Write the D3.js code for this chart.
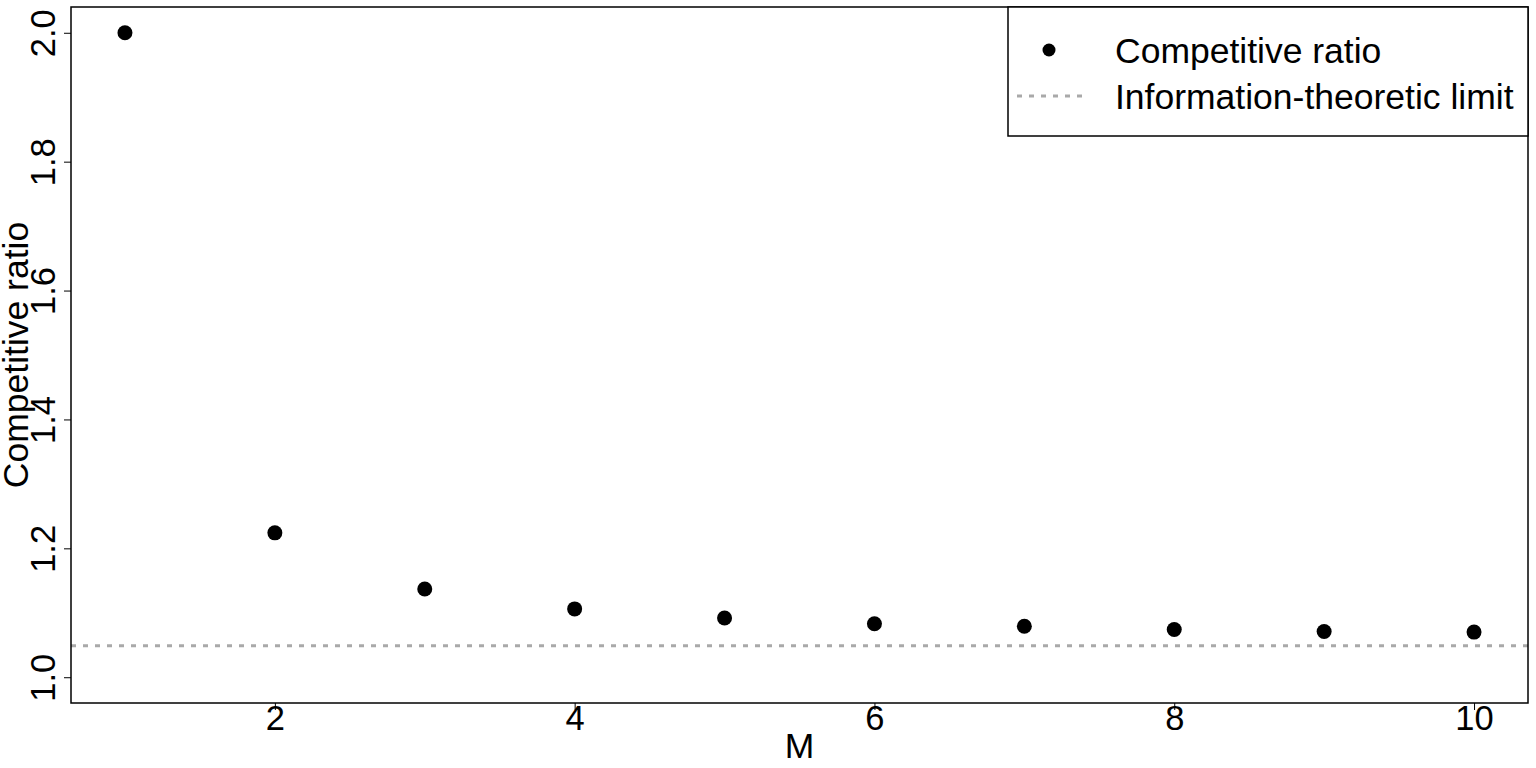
<!DOCTYPE html>
<html>
<head>
<meta charset="utf-8">
<script src="https://cdn.jsdelivr.net/npm/d3@7"></script>
<style>
    body { margin: 0; background: #fff; }
    svg { display: block; font-family: "Liberation Sans", Arial, sans-serif; }
</style>
</head>
<body>
<svg id="chart"></svg>
<script>
// Data
const mValues = [1, 2, 3, 4, 5, 6, 7, 8, 9, 10];
const ratioValues = [2.0, 1.224, 1.137, 1.106, 1.092, 1.083, 1.079, 1.074, 1.071, 1.070];
const limitValue = 1.049;
const xTicks = [2, 4, 6, 8, 10];
const yTicks = [1.0, 1.2, 1.4, 1.6, 1.8, 2.0];
const legendLabels = ["Competitive ratio", "Information-theoretic limit"];

const WIDTH = 1536, HEIGHT = 768;
const plot = {left: 71, right: 1528, top: 7, bottom: 703};
const LIMIT_COLOR = "#a9a9a9";
const LABEL_SIZE = 35.5;

const svg = d3.select("#chart").attr("width", WIDTH).attr("height", HEIGHT);

// R style axis ranges: data range padded by 4% on each side
const xScale = d3.scaleLinear().domain([0.64, 10.36]).range([plot.left, plot.right]);
const yScale = d3.scaleLinear().domain([0.96, 2.04]).range([plot.bottom, plot.top]);

svg.append("defs").append("clipPath").attr("id", "plot-clip")
    .append("rect")
    .attr("x", plot.left).attr("y", plot.top)
    .attr("width", plot.right - plot.left).attr("height", plot.bottom - plot.top);

// limit line (abline)
svg.append("line")
    .attr("clip-path", "url(#plot-clip)")
    .attr("x1", plot.left).attr("x2", plot.right)
    .attr("y1", yScale(limitValue)).attr("y2", yScale(limitValue))
    .attr("stroke", LIMIT_COLOR)
    .attr("stroke-width", 3)
    .attr("stroke-dasharray", "5,7");

// points
svg.append("g").selectAll("circle")
    .data(mValues.map((m, i) => ({m: m, r: ratioValues[i]})))
    .enter()
    .append("circle")
    .attr("cx", d => xScale(d.m))
    .attr("cy", d => yScale(d.r))
    .attr("r", 7.5)
    .attr("fill", "#000");

// x axis
const xAxis = svg.append("g")
    .attr("transform", "translate(0," + plot.bottom + ")")
    .call(d3.axisBottom(xScale).tickValues(xTicks).tickFormat(d3.format("d")).tickSize(7).tickPadding(0));
xAxis.select(".domain").remove();
xAxis.selectAll("line").attr("stroke", "#000");
xAxis.selectAll("text")
    .attr("y", 27).attr("dy", 0)
    .attr("font-size", 34.5)
    .attr("font-family", "Liberation Sans, Arial, sans-serif")
    .attr("fill", "#000");

// y axis, labels parallel to the axis
const yAxis = svg.append("g")
    .attr("transform", "translate(" + plot.left + ",0)")
    .call(d3.axisLeft(yScale).tickValues(yTicks).tickFormat(d3.format(".1f")).tickSize(7));
yAxis.select(".domain").remove();
yAxis.selectAll("line").attr("stroke", "#000");
yAxis.selectAll("text")
    .attr("x", 0).attr("y", -16).attr("dy", 0)
    .attr("transform", "rotate(-90)")
    .attr("text-anchor", "middle")
    .attr("font-size", 34.5)
    .attr("font-family", "Liberation Sans, Arial, sans-serif")
    .attr("fill", "#000");

// box around the plot
svg.append("rect")
    .attr("x", plot.left).attr("y", plot.top)
    .attr("width", plot.right - plot.left).attr("height", plot.bottom - plot.top)
    .attr("fill", "none").attr("stroke", "#000").attr("stroke-width", 1.5);

// axis titles
svg.append("text")
    .attr("x", (plot.left + plot.right) / 2).attr("y", 758)
    .attr("text-anchor", "middle")
    .attr("font-size", LABEL_SIZE)
    .text("M");

svg.append("text")
    .attr("transform", "translate(28," + (plot.top + plot.bottom) / 2 + ") rotate(-90)")
    .attr("text-anchor", "middle")
    .attr("font-size", LABEL_SIZE)
    .text("Competitive ratio");

// legend
const legend = svg.append("g");
legend.append("rect")
    .attr("x", 1008).attr("y", plot.top)
    .attr("width", plot.right - 1008).attr("height", 129)
    .attr("fill", "#fff").attr("stroke", "#000").attr("stroke-width", 1.5);
legend.append("circle")
    .attr("cx", 1049).attr("cy", 50).attr("r", 6.5)
    .attr("fill", "#000");
legend.append("line")
    .attr("x1", 1017).attr("x2", 1084).attr("y1", 96).attr("y2", 96)
    .attr("stroke", LIMIT_COLOR).attr("stroke-width", 3)
    .attr("stroke-dasharray", "5,7");
legend.selectAll("text.legend-label")
    .data(legendLabels)
    .enter()
    .append("text")
    .attr("class", "legend-label")
    .attr("x", 1115)
    .attr("y", (d, i) => 63 + i * 46)
    .attr("font-size", LABEL_SIZE)
    .text(d => d);
</script>
</body>
</html>
